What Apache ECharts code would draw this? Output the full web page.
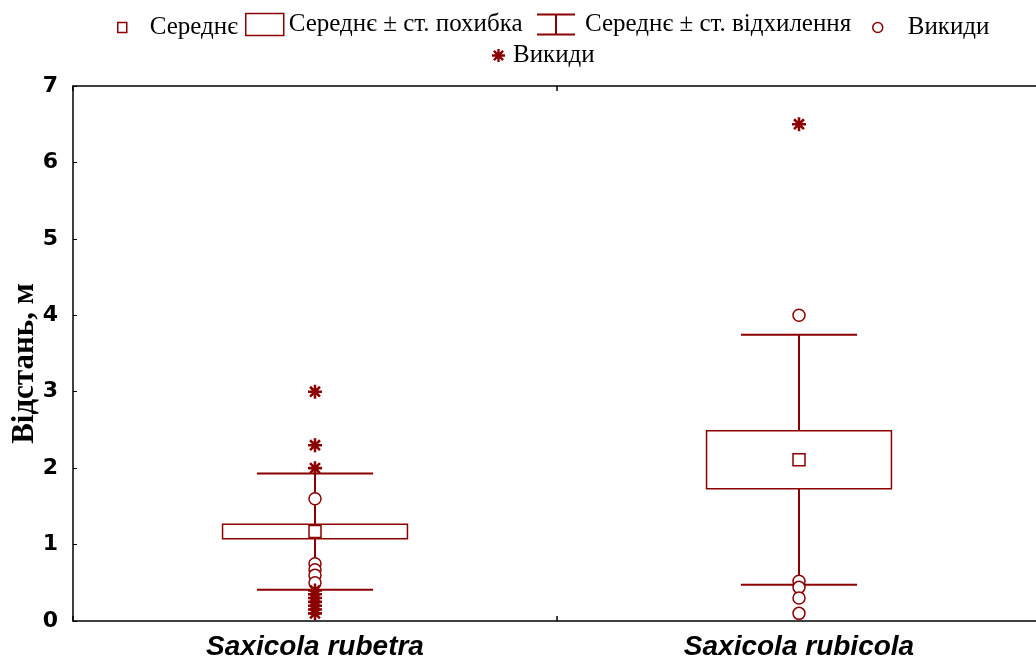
<!DOCTYPE html>
<html>
<head>
<meta charset="utf-8">
<script src="https://cdn.jsdelivr.net/npm/echarts@6/dist/echarts.min.js"></script>
<style>
  html, body { margin: 0; padding: 0; background: #fff; }
  #chart { width: 1036px; height: 658px; }
</style>
</head>
<body>
<div id="chart"></div>
<script>
// Distance (m) by species: mean, standard error, standard deviation, outliers
const categories = ['Saxicola rubetra', 'Saxicola rubicola'];
const means = [1.17, 2.11];
const stdErrors = [0.095, 0.38];
const stdDevs = [0.76, 1.635];
const outliers = [
  [1.6, 0.75, 0.67, 0.6, 0.5],
  [4.0, 0.52, 0.44, 0.3, 0.1]
];
const extremes = [
  [3.0, 2.3, 2.0, 0.4, 0.35, 0.3, 0.25, 0.2, 0.15, 0.1],
  [6.5]
];
const yTicks = [0, 1, 2, 3, 4, 5, 6, 7];

const RED = '#8b0000';
const ASTERISK = 'path://M-1.2,-6.5L1.2,-6.5L1.2,6.5L-1.2,6.5Z' +
  'M-6.5,-1.2L6.5,-1.2L6.5,1.2L-6.5,1.2Z' +
  'M3.75,5.45L-5.45,-3.75L-3.75,-5.45L5.45,3.75Z' +
  'M-5.45,3.75L3.75,-5.45L5.45,-3.75L-3.75,5.45Z';
const WHISKER_ICON = 'path://M0,0H38V2H20V20H38V22H0V20H18V2H0Z';

const seData = categories.map((c, i) => [i, means[i] - stdErrors[i], means[i] + stdErrors[i]]);
const sdData = categories.map((c, i) => [i, means[i] - stdDevs[i], means[i] + stdDevs[i]]);
const meanData = categories.map((c, i) => [i, means[i]]);
const outlierData = [];
outliers.forEach((arr, i) => arr.forEach(v => outlierData.push([i, v])));
const extremeData = [];
extremes.forEach((arr, i) => arr.forEach(v => extremeData.push([i, v])));

const legendText = { fontFamily: 'Liberation Serif', fontSize: 25, color: '#000' };
function legendBox(name, left, top, w, h, icon, itemStyle, padLeft) {
  return {
    data: [{ name: name, icon: icon, itemStyle: itemStyle }],
    left: left, top: top, itemWidth: w, itemHeight: h,
    padding: 0,
    selectedMode: false,
    formatter: n => n.trim(),
    textStyle: Object.assign({ padding: [0, 0, 0, padLeft] }, legendText)
  };
}
const hollow = { color: '#fff', borderColor: RED, borderWidth: 1.5 };

const chart = echarts.init(document.getElementById('chart'), null, { renderer: 'canvas' });
chart.setOption({
  animation: false,
  backgroundColor: '#fff',
  legend: [
    legendBox('Середнє', 117, 15, 9, 10, 'rect', hollow, 18),
    legendBox('Середнє ± ст. похибка', 245, 12, 38, 22, 'rect', hollow, 0),
    legendBox('Середнє ± ст. відхилення', 537, 12, 38, 22, WHISKER_ICON, { color: RED, borderWidth: 0 }, 5),
    legendBox('Викиди', 872, 15, 10, 10, 'circle', hollow, 20),
    legendBox('Викиди ', 492, 43, 13, 13, ASTERISK, { color: RED, borderWidth: 0 }, 3)
  ],
  grid: { left: 73, right: -5, top: 86, bottom: 37, outerBoundsMode: 'none', containLabel: false },
  xAxis: [
    {
      type: 'category', data: categories, position: 'bottom',
      boundaryGap: true,
      axisLine: { show: true, lineStyle: { color: '#000', width: 1.5 } },
      axisTick: { show: true, inside: true, length: 5, lineStyle: { color: '#000', width: 1.5 } },
      axisLabel: {
        fontFamily: 'Liberation Sans', fontWeight: 'bold', fontStyle: 'italic',
        fontSize: 28, color: '#000', margin: 12
      },
      splitLine: { show: false }
    },
    {
      type: 'category', data: categories, position: 'top',
      boundaryGap: true,
      axisLine: { show: true, lineStyle: { color: '#000', width: 1.5 } },
      axisTick: { show: true, inside: true, length: 5, lineStyle: { color: '#000', width: 1.5 } },
      axisLabel: { show: false },
      splitLine: { show: false }
    }
  ],
  yAxis: {
    type: 'value', min: yTicks[0], max: yTicks[yTicks.length - 1], interval: 1,
    name: 'Відстань, м', nameLocation: 'middle', nameRotate: 90, nameGap: 33,
    nameMoveOverlap: false,
    nameTextStyle: {
      fontFamily: 'Liberation Serif', fontWeight: 'bold', fontSize: 31, color: '#000',
      padding: [0, 20, 0, 0]
    },
    axisLine: { show: true, lineStyle: { color: '#000', width: 1.5 } },
    axisTick: { show: true, inside: true, length: 4, lineStyle: { color: '#000', width: 1 } },
    axisLabel: {
      fontFamily: 'DejaVu Sans', fontWeight: 'bold', fontSize: 22, color: '#000', margin: 15
    },
    splitLine: { show: false }
  },
  series: [
    {
      name: 'Середнє ± ст. відхилення',
      type: 'custom',
      data: sdData,
      encode: { x: 0, y: [1, 2] },
      z: 1,
      silent: true,
      itemStyle: { color: RED },
      renderItem: function (params, api) {
        const lo = api.coord([api.value(0), api.value(1)]);
        const hi = api.coord([api.value(0), api.value(2)]);
        const half = api.size([1, 0])[0] * 0.12;
        const style = { stroke: RED, lineWidth: 2 };
        return {
          type: 'group',
          children: [
            { type: 'line', shape: { x1: lo[0], y1: lo[1], x2: hi[0], y2: hi[1] }, style: style },
            { type: 'line', shape: { x1: hi[0] - half, y1: hi[1], x2: hi[0] + half, y2: hi[1] }, style: style },
            { type: 'line', shape: { x1: lo[0] - half, y1: lo[1], x2: lo[0] + half, y2: lo[1] }, style: style }
          ]
        };
      }
    },
    {
      name: 'Середнє ± ст. похибка',
      type: 'custom',
      data: seData,
      encode: { x: 0, y: [1, 2] },
      z: 2,
      silent: true,
      itemStyle: { color: RED },
      renderItem: function (params, api) {
        const lo = api.coord([api.value(0), api.value(1)]);
        const hi = api.coord([api.value(0), api.value(2)]);
        const w = api.size([1, 0])[0] * 0.382;
        return {
          type: 'rect',
          shape: { x: lo[0] - w / 2, y: hi[1], width: w, height: lo[1] - hi[1] },
          style: { fill: '#fff', stroke: RED, lineWidth: 1.5 }
        };
      }
    },
    {
      name: 'Викиди',
      type: 'scatter',
      data: outlierData,
      z: 3,
      silent: true,
      symbol: 'circle',
      symbolSize: 12,
      itemStyle: { color: '#fff', borderColor: RED, borderWidth: 1.5, opacity: 1 }
    },
    {
      name: 'Викиди ',
      type: 'scatter',
      data: extremeData,
      z: 3,
      silent: true,
      symbol: ASTERISK,
      symbolSize: 14,
      itemStyle: { color: RED, opacity: 1 }
    },
    {
      name: 'Середнє',
      type: 'scatter',
      data: meanData,
      z: 4,
      silent: true,
      symbol: 'rect',
      symbolSize: 12,
      itemStyle: { color: '#fff', borderColor: RED, borderWidth: 1.5, opacity: 1 }
    }
  ]
});
</script>
</body>
</html>
